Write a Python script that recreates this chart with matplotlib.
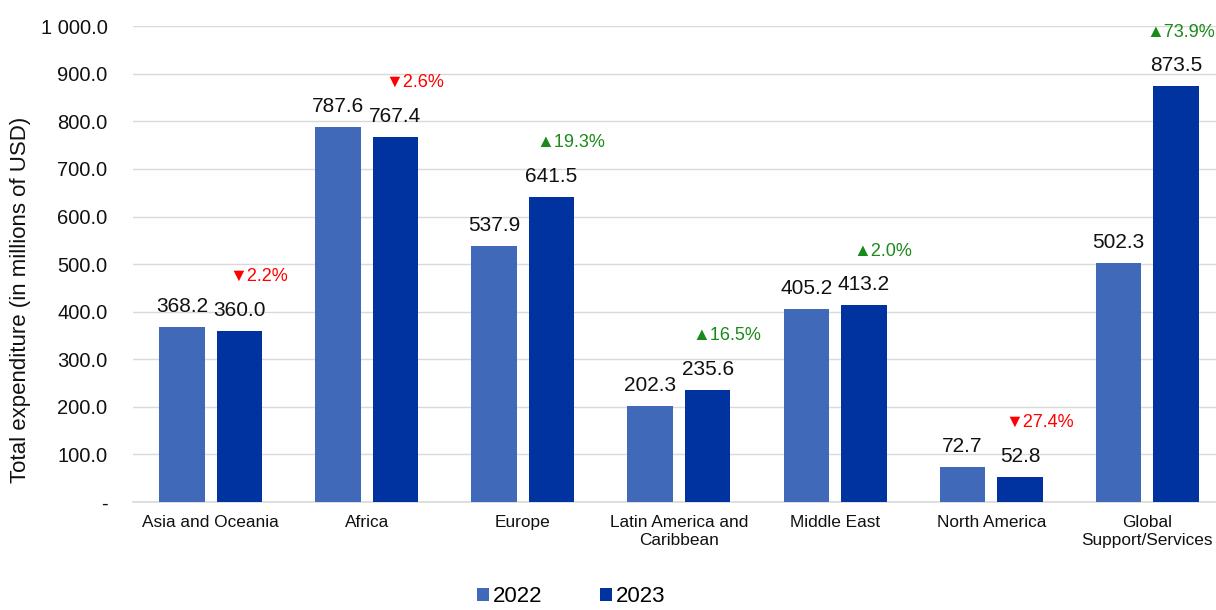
import matplotlib
matplotlib.use("Agg")
import matplotlib.pyplot as plt
import numpy as np
from matplotlib.ticker import FuncFormatter

categories = ["Asia and Oceania", "Africa", "Europe", "Latin America and\nCaribbean",
              "Middle East", "North America", "Global\nSupport/Services"]
values_2022 = [368.2, 787.6, 537.9, 202.3, 405.2, 72.7, 502.3]
values_2023 = [360.0, 767.4, 641.5, 235.6, 413.2, 52.8, 873.5]
pct_change = ["▼2.2%", "▼2.6%", "▲19.3%", "▲16.5%", "▲2.0%", "▼27.4%", "▲73.9%"]
series_labels = ["2022", "2023"]
yticks = [0, 100, 200, 300, 400, 500, 600, 700, 800, 900, 1000]

plt.rcParams['font.family'] = ['Liberation Sans', 'DejaVu Sans']

c22 = "#4169BA"
c23 = "#0033A0"

fig = plt.figure(figsize=(12.16, 6.10), dpi=100)
ax = fig.add_axes([0.109, 0.177, 0.891, 0.78])

x = np.arange(len(categories))
w = 0.292
off = 0.184
b1 = ax.bar(x - off, values_2022, w, color=c22, label=series_labels[0], zorder=3)
b2 = ax.bar(x + off, values_2023, w, color=c23, label=series_labels[1], zorder=3)

for xi, v in zip(x - off, values_2022):
    ax.annotate(f"{v:.1f}", (xi, v), xytext=(0, 8), textcoords="offset points",
                ha="center", va="bottom", fontsize=15, color="#111111")
n = len(categories)
for i, (xi, v, p) in enumerate(zip(x + off, values_2023, pct_change)):
    ax.annotate(f"{v:.1f}", (xi, v), xytext=(0, 8), textcoords="offset points",
                ha="center", va="bottom", fontsize=15, color="#111111")
    col = "#FF0000" if p.startswith("▼") else "#1A8A1A"
    if i == n - 1:
        ax.annotate(p, (1.0, v), xycoords=("axes fraction", "data"), xytext=(-1, 33),
                    textcoords="offset points", ha="right", va="bottom",
                    fontsize=13, color=col)
    else:
        ax.annotate(p, (xi, v), xytext=(14, 33), textcoords="offset points",
                    ha="center", va="bottom", fontsize=13, color=col)

ax.set_xlim(-0.5, 6.44)
ax.set_ylim(0, 1000)
ax.set_yticks(yticks)

def fmt(v, pos):
    if v == 0:
        return "-"
    return f"{v:,.1f}".replace(",", " ")
ax.yaxis.set_major_formatter(FuncFormatter(fmt))
ax.set_xticks(x)
ax.set_xticklabels(categories, fontsize=12.4, color="#111111", linespacing=1.25)
ax.tick_params(axis="y", labelsize=14.5, length=0, pad=18, colors="#111111")
ax.tick_params(axis="x", length=0, pad=9)
ax.grid(axis="y", color="#D9D9D9", linewidth=1, zorder=0)
for s in ["top", "right", "left"]:
    ax.spines[s].set_visible(False)
ax.spines["bottom"].set_color("#D9D9D9")
ax.spines["bottom"].set_linewidth(1.2)
ax.set_ylabel("Total expenditure (in millions of USD)", fontsize=16, color="#111111")
ax.yaxis.set_label_coords(-0.094, 0.424)

fig.legend(handles=[b1, b2], labels=series_labels, loc="lower center", ncol=2,
           bbox_to_anchor=(0.4696, -0.028), frameon=False, fontsize=16,
           handlelength=0.55, handleheight=0.55, handletextpad=0.15, columnspacing=2.6)

fig.savefig("out.png", dpi=100)
